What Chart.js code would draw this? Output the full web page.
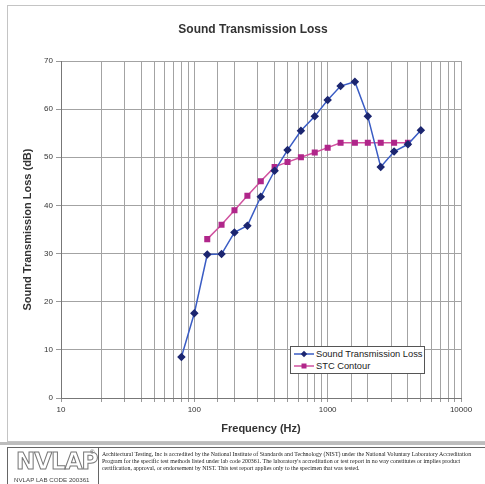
<!DOCTYPE html>
<html>
<head>
<meta charset="utf-8">
<script src="https://cdn.jsdelivr.net/npm/chart.js@4/dist/chart.umd.min.js"></script>
<style>
  html, body { margin: 0; padding: 0; background: #fff; }
  body { width: 485px; height: 484px; position: relative; overflow: hidden; font-family: Arial, "Liberation Sans", sans-serif; }
  #frame { position: absolute; left: 7px; top: 5px; width: 490px; height: 437px; border: 1px solid #c4c4c4; box-sizing: border-box; }
  #sep { position: absolute; left: 0; top: 442px; width: 485px; height: 3px; background: #bdbdbd; }
  #wrap { position: absolute; left: 0; top: 0; width: 485px; height: 445px; }
  #legend { position: absolute; left: 290px; top: 346px; width: 135px; height: 28px; background: #fff; border: 1px solid #555; box-sizing: border-box; font-size: 9.3px; color: #222; }
  .row { position: absolute; left: 0; height: 12px; width: 133px; }
  .row span { position: absolute; left: 25px; top: 0; line-height: 12px; white-space: nowrap; }
  .row canvas { position: absolute; left: 2px; top: 0; }
  #footer { position: absolute; left: 7px; top: 447px; width: 480px; height: 40px; border-top: 1px solid #666; border-left: 1px solid #666; }
  #logo { position: absolute; left: 0; top: 0; width: 90px; height: 40px; border-right: 1px solid #666; }
  #logoText { position: absolute; left: 8px; top: 0px; font-family: "DejaVu Sans", sans-serif; font-size: 23px; font-weight: bold; color: #fff; -webkit-text-stroke: 1px #777; letter-spacing: -1px; }
  #reg { position: absolute; left: 82px; top: 1px; font-size: 6px; color: #555; }
  #code { position: absolute; left: 6px; top: 28px; font-size: 6.2px; color: #444; white-space: nowrap; }
  #note { position: absolute; left: 94px; top: 3px; font-family: "Liberation Serif", "DejaVu Serif", serif; font-size: 5.9px; line-height: 7px; color: #222; white-space: nowrap; }
</style>
</head>
<body>
<div id="frame"></div>
<div id="wrap"><canvas id="c" width="485" height="445"></canvas></div>
<div id="legend">
  <div class="row" style="top:1px"><canvas id="l1" width="22" height="12"></canvas><span>Sound Transmission Loss</span></div>
  <div class="row" style="top:13px"><canvas id="l2" width="22" height="12"></canvas><span>STC Contour</span></div>
</div>
<div id="sep"></div>
<div id="footer">
  <div id="logo"><div id="logoText">NVLAP</div><div id="reg">®</div><div id="code">NVLAP LAB CODE 200361</div></div>
  <div id="note">Architectural Testing, Inc is accredited by the National Institute of Standards and Technology (NIST) under the National Voluntary Laboratory Accreditation<br>Program for the specific test methods listed under lab code 200361. The laboratory's accreditation or test report in no way constitutes or implies product<br>certification, approval, or endorsement by NIST. This test report applies only to the specimen that was tested.</div>
</div>
<script>
// ---- data ----
const chartTitle = 'Sound Transmission Loss';
const stlFreq = [80, 100, 125, 160, 200, 250, 315, 400, 500, 630, 800, 1000, 1250, 1600, 2000, 2500, 3150, 4000, 5000];
const stlValues = [8.5, 17.6, 29.8, 29.9, 34.4, 35.8, 41.8, 47.2, 51.5, 55.5, 58.5, 61.9, 64.8, 65.7, 58.5, 48.0, 51.2, 52.7, 55.6];
const stcFreq = [125, 160, 200, 250, 315, 400, 500, 630, 800, 1000, 1250, 1600, 2000, 2500, 3150, 4000];
const stcValues = [33, 36, 39, 42, 45, 48, 49, 50, 51, 52, 53, 53, 53, 53, 53, 53];
const xTickLabels = [10, 100, 1000, 10000];
const yTicks = [0, 10, 20, 30, 40, 50, 60, 70];

const blueLine = '#3a5cc4', blueMark = '#1c2670';
const pinkLine = '#d0529f', pinkMark = '#b0268a';

const toPts = (xs, ys) => xs.map((x, i) => ({ x: x, y: ys[i] }));

const titlePlugin = {
  id: 'titleText',
  afterDraw(chart) {
    const ctx = chart.ctx;
    ctx.save();
    ctx.font = 'bold 12px Arial, "Liberation Sans", sans-serif';
    ctx.fillStyle = '#333';
    ctx.textAlign = 'center';
    ctx.textBaseline = 'middle';
    ctx.fillText(chartTitle, 253, 30);
    ctx.restore();
  }
};

new Chart(document.getElementById('c'), {
  type: 'line',
  data: {
    datasets: [
      { label: 'Sound Transmission Loss', data: toPts(stlFreq, stlValues), borderColor: blueLine, backgroundColor: blueMark,
        pointBackgroundColor: blueMark, pointBorderColor: blueMark, pointStyle: 'rectRot', pointRadius: 3.2, borderWidth: 1.5, tension: 0 },
      { label: 'STC Contour', data: toPts(stcFreq, stcValues), borderColor: pinkLine, backgroundColor: pinkMark,
        pointBackgroundColor: pinkMark, pointBorderColor: pinkMark, pointStyle: 'rect', pointRadius: 3.2, borderWidth: 1.5, tension: 0 }
    ]
  },
  plugins: [titlePlugin],
  options: {
    responsive: false, animation: false,
    layout: { padding: { left: 20, right: 24, top: 61, bottom: 5 } },
    plugins: {
      legend: { display: false },
      tooltip: { enabled: false },
      title: { display: false }
    },
    scales: {
      x: {
        type: 'logarithmic', min: 10, max: 10000,
        afterFit: s => { s.height = 42; },
        border: { color: '#777', width: 1 },
        grid: { color: '#a3a3a3', lineWidth: 1, tickLength: 4, tickColor: '#999' },
        ticks: { autoSkip: false, maxRotation: 0, color: '#333', padding: 3,
          font: { family: 'Arial, "Liberation Sans", sans-serif', size: 8 },
          callback: v => xTickLabels.includes(v) ? String(v) : '' },
        title: { display: true, text: 'Frequency (Hz)', color: '#333', padding: { top: 0, bottom: 4 },
          font: { family: 'Arial, "Liberation Sans", sans-serif', size: 11, weight: 'bold' } }
      },
      y: {
        min: 0, max: 70,
        afterFit: s => { s.width = 41; },
        afterBuildTicks: s => { s.ticks = yTicks.map(v => ({ value: v })); },
        border: { color: '#777', width: 1 },
        grid: { color: '#a3a3a3', lineWidth: 1, tickLength: 5, tickColor: '#999' },
        ticks: { color: '#333', padding: 3, font: { family: 'Arial, "Liberation Sans", sans-serif', size: 8 } },
        title: { display: true, text: 'Sound Transmission Loss (dB)', color: '#333', padding: { top: 1, bottom: 0 },
          font: { family: 'Arial, "Liberation Sans", sans-serif', size: 11, weight: 'bold' } }
      }
    }
  }
});

// legend swatches
function swatch(id, lineCol, markCol, diamond) {
  const ctx = document.getElementById(id).getContext('2d');
  ctx.strokeStyle = lineCol; ctx.lineWidth = 1.5;
  ctx.beginPath(); ctx.moveTo(1, 6); ctx.lineTo(21, 6); ctx.stroke();
  ctx.fillStyle = markCol;
  ctx.beginPath();
  if (diamond) { ctx.moveTo(11, 2.8); ctx.lineTo(14.2, 6); ctx.lineTo(11, 9.2); ctx.lineTo(7.8, 6); ctx.closePath(); }
  else { ctx.rect(8.5, 3.5, 5, 5); }
  ctx.fill();
}
swatch('l1', blueLine, blueMark, true);
swatch('l2', pinkLine, pinkMark, false);
</script>
</body>
</html>
